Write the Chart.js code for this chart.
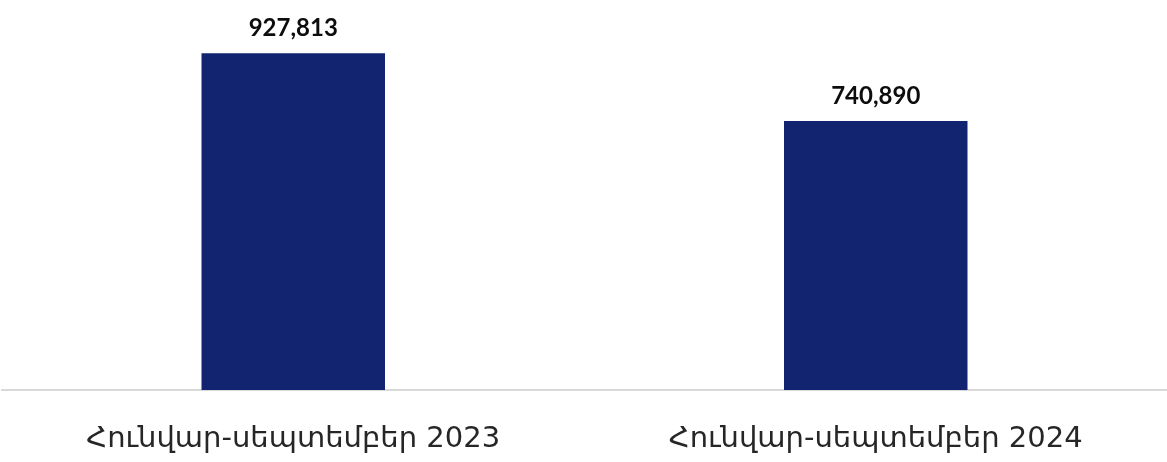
<!DOCTYPE html>
<html>
<head>
<meta charset="utf-8">
<script src="https://cdn.jsdelivr.net/npm/chart.js@4"></script>
<style>
  html, body { margin: 0; padding: 0; background: #fff; }
  #wrap { width: 1167px; height: 462px; }
</style>
</head>
<body>
<div id="wrap"><canvas id="salesChart"></canvas></div>
<script>
// ----- Data -----
const categories = ["Հունվար-սեպտեմբեր 2023", "Հունվար-սեպտեմբեր 2024"];
const values = [927813, 740890];
const valueLabels = ["927,813", "740,890"];

// ----- Value labels above bars -----
const barLabels = {
  id: "barLabels",
  afterDatasetsDraw(chart) {
    const ctx = chart.ctx;
    const meta = chart.getDatasetMeta(0);
    ctx.save();
    ctx.font = "bold 24px Lato, 'Open Sans', sans-serif";
    ctx.fillStyle = "#0d0d0d";
    ctx.textAlign = "center";
    ctx.textBaseline = "alphabetic";
    meta.data.forEach((bar, i) => {
      ctx.fillText(valueLabels[i], bar.x, bar.y - 17);
    });
    ctx.restore();
  },
};

document.addEventListener("DOMContentLoaded", () => {
  const ctx = document.getElementById("salesChart").getContext("2d");
  new Chart(ctx, {
    type: "bar",
    data: {
      labels: categories,
      datasets: [
        {
          data: values,
          backgroundColor: "#12236f",
          borderWidth: 0,
          categoryPercentage: 1,
          barPercentage: 0.315,
        },
      ],
    },
    options: {
      responsive: true,
      maintainAspectRatio: false,
      animation: false,
      layout: { padding: { top: 27, left: 2, right: -3, bottom: 0 } },
      plugins: { legend: { display: false }, tooltip: { enabled: false } },
      scales: {
        y: { display: false, min: 0, max: 1000000 },
        x: {
          afterFit(scale) {
            scale.height = 72;
          },
          grid: { display: false },
          border: { display: true, color: "#d9d9d9", width: 2 },
          ticks: {
            color: "#262626",
            padding: 24,
            maxRotation: 0,
            font: { size: 29, family: "'DejaVu Sans', 'Noto Sans', sans-serif" },
          },
        },
      },
    },
    plugins: [barLabels],
  });
});
</script>
</body>
</html>
